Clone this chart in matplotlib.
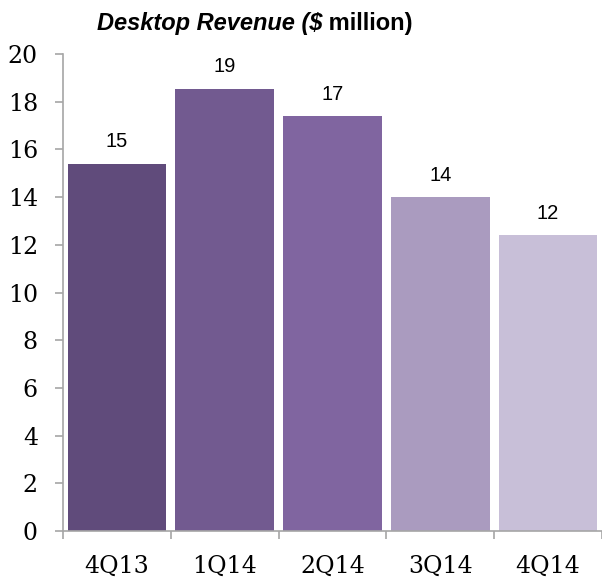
import numpy as np
import matplotlib.pyplot as plt

# quarterly desktop revenue, $ million
quarters = ["4Q13", "1Q14", "2Q14", "3Q14", "4Q14"]
revenue = [15.4, 18.55, 17.4, 14.0, 12.4]
bar_colors = ["#604b7b", "#725a90", "#8065a0", "#aa9bbf", "#c8bfd8"]
y_ticks = [0, 2, 4, 6, 8, 10, 12, 14, 16, 18, 20]

W, H = 602, 583
fig = plt.figure(figsize=(W / 100, H / 100), dpi=100)
ax = fig.add_axes([63 / W, 52 / H, (W - 63) / W, 477 / H])

x = np.arange(len(quarters))
bars = ax.bar(x, revenue, width=0.915, color=bar_colors, zorder=2)

for xi, v in zip(x, revenue):
    ax.annotate(f"{v:.0f}", (xi, v), xytext=(0, 9), textcoords="offset points",
                ha="center", va="bottom", fontsize=14.5, family="Liberation Sans")

ax.set_xlim(-0.5, 4.48)
ax.set_ylim(0, 20)
ax.set_yticks(y_ticks)
ax.set_xticks(x)
ax.set_xticklabels(quarters)
ax.set_xticks(np.arange(-0.5, 5, 1.0), minor=True)

for s in ["top", "right"]:
    ax.spines[s].set_visible(False)
for s in ["left", "bottom"]:
    ax.spines[s].set_color("#a6a6a6")
    ax.spines[s].set_linewidth(1.2)

ax.tick_params(axis="y", length=6, width=1.2, color="#a6a6a6", pad=12, labelsize=17)
ax.tick_params(axis="x", which="major", length=0, pad=17, labelsize=17)
ax.tick_params(axis="x", which="minor", length=6, width=1.2, color="#a6a6a6")
for lbl in ax.get_xticklabels() + ax.get_yticklabels():
    lbl.set_family("DejaVu Serif")

# title: italic part followed by upright part
t1 = fig.text(97 / W, 1 - 30 / H, "Desktop Revenue ($", fontsize=17, fontweight="bold",
              style="italic", family="Liberation Sans", ha="left", va="baseline")
ax.annotate(" million)", xy=(1, 0), xycoords=t1, va="bottom", ha="left",
            fontsize=17, fontweight="bold", family="Liberation Sans",
            annotation_clip=False)

fig.savefig("out.png", dpi=100)
